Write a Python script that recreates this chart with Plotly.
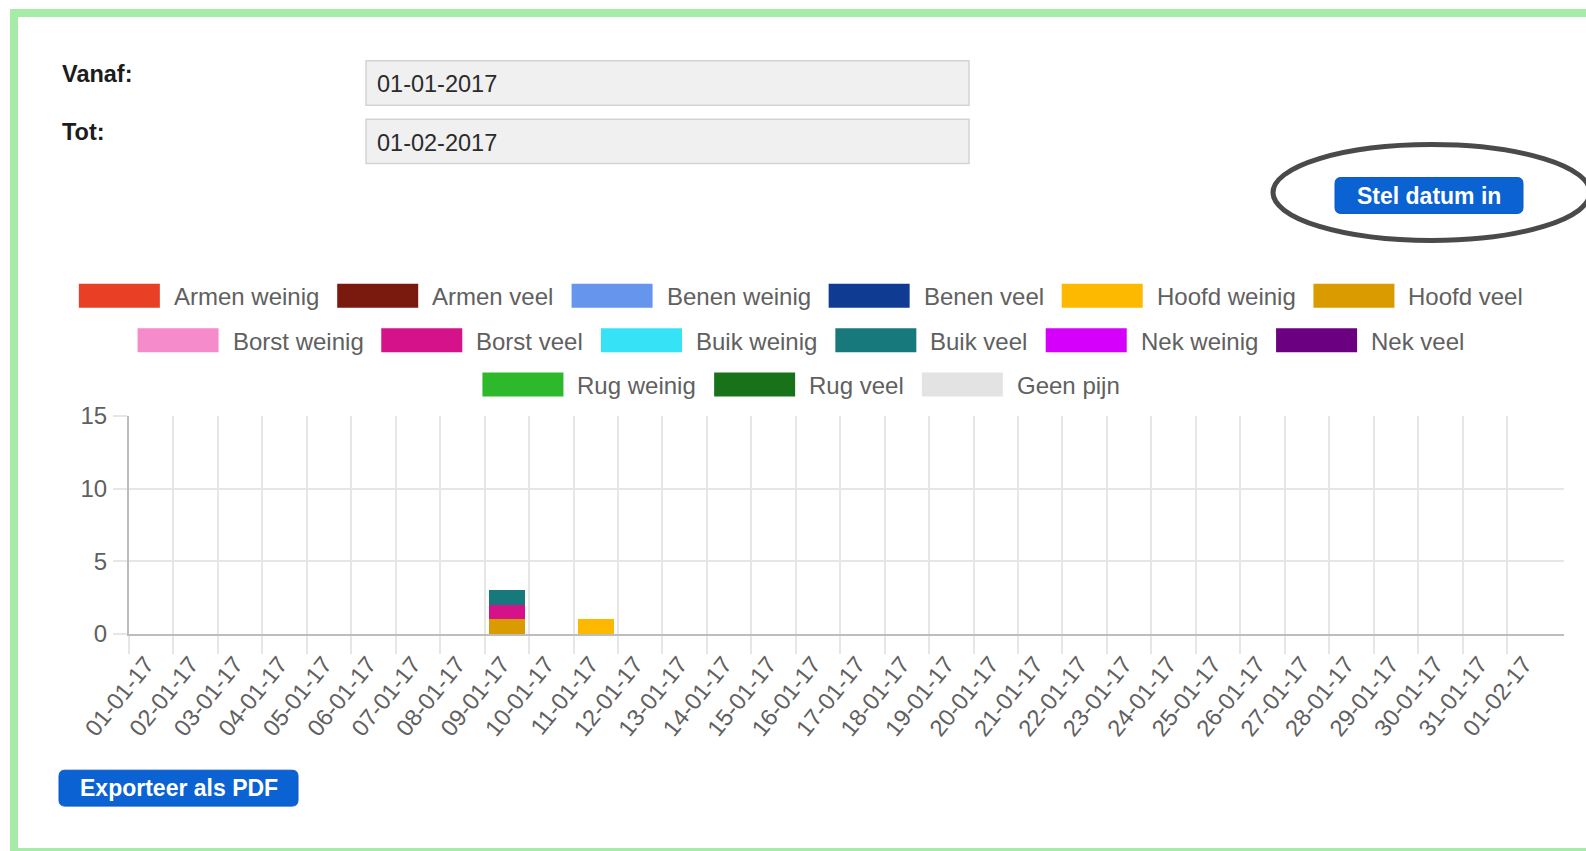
import plotly.graph_objects as go

# ---- data -------------------------------------------------------------
dates = [
    "01-01-17", "02-01-17", "03-01-17", "04-01-17", "05-01-17", "06-01-17",
    "07-01-17", "08-01-17", "09-01-17", "10-01-17", "11-01-17", "12-01-17",
    "13-01-17", "14-01-17", "15-01-17", "16-01-17", "17-01-17", "18-01-17",
    "19-01-17", "20-01-17", "21-01-17", "22-01-17", "23-01-17", "24-01-17",
    "25-01-17", "26-01-17", "27-01-17", "28-01-17", "29-01-17", "30-01-17",
    "31-01-17", "01-02-17",
]

armen_weinig = [0, 0, 0, 0, 0, 0, 0, 0, 0, 0, 0, 0, 0, 0, 0, 0, 0, 0, 0, 0, 0, 0, 0, 0, 0, 0, 0, 0, 0, 0, 0, 0]
armen_veel   = [0, 0, 0, 0, 0, 0, 0, 0, 0, 0, 0, 0, 0, 0, 0, 0, 0, 0, 0, 0, 0, 0, 0, 0, 0, 0, 0, 0, 0, 0, 0, 0]
benen_weinig = [0, 0, 0, 0, 0, 0, 0, 0, 0, 0, 0, 0, 0, 0, 0, 0, 0, 0, 0, 0, 0, 0, 0, 0, 0, 0, 0, 0, 0, 0, 0, 0]
benen_veel   = [0, 0, 0, 0, 0, 0, 0, 0, 0, 0, 0, 0, 0, 0, 0, 0, 0, 0, 0, 0, 0, 0, 0, 0, 0, 0, 0, 0, 0, 0, 0, 0]
hoofd_weinig = [0, 0, 0, 0, 0, 0, 0, 0, 0, 0, 1, 0, 0, 0, 0, 0, 0, 0, 0, 0, 0, 0, 0, 0, 0, 0, 0, 0, 0, 0, 0, 0]
hoofd_veel   = [0, 0, 0, 0, 0, 0, 0, 0, 1, 0, 0, 0, 0, 0, 0, 0, 0, 0, 0, 0, 0, 0, 0, 0, 0, 0, 0, 0, 0, 0, 0, 0]
borst_weinig = [0, 0, 0, 0, 0, 0, 0, 0, 0, 0, 0, 0, 0, 0, 0, 0, 0, 0, 0, 0, 0, 0, 0, 0, 0, 0, 0, 0, 0, 0, 0, 0]
borst_veel   = [0, 0, 0, 0, 0, 0, 0, 0, 1, 0, 0, 0, 0, 0, 0, 0, 0, 0, 0, 0, 0, 0, 0, 0, 0, 0, 0, 0, 0, 0, 0, 0]
buik_weinig  = [0, 0, 0, 0, 0, 0, 0, 0, 0, 0, 0, 0, 0, 0, 0, 0, 0, 0, 0, 0, 0, 0, 0, 0, 0, 0, 0, 0, 0, 0, 0, 0]
buik_veel    = [0, 0, 0, 0, 0, 0, 0, 0, 1, 0, 0, 0, 0, 0, 0, 0, 0, 0, 0, 0, 0, 0, 0, 0, 0, 0, 0, 0, 0, 0, 0, 0]
nek_weinig   = [0, 0, 0, 0, 0, 0, 0, 0, 0, 0, 0, 0, 0, 0, 0, 0, 0, 0, 0, 0, 0, 0, 0, 0, 0, 0, 0, 0, 0, 0, 0, 0]
nek_veel     = [0, 0, 0, 0, 0, 0, 0, 0, 0, 0, 0, 0, 0, 0, 0, 0, 0, 0, 0, 0, 0, 0, 0, 0, 0, 0, 0, 0, 0, 0, 0, 0]
rug_weinig   = [0, 0, 0, 0, 0, 0, 0, 0, 0, 0, 0, 0, 0, 0, 0, 0, 0, 0, 0, 0, 0, 0, 0, 0, 0, 0, 0, 0, 0, 0, 0, 0]
rug_veel     = [0, 0, 0, 0, 0, 0, 0, 0, 0, 0, 0, 0, 0, 0, 0, 0, 0, 0, 0, 0, 0, 0, 0, 0, 0, 0, 0, 0, 0, 0, 0, 0]
geen_pijn    = [0, 0, 0, 0, 0, 0, 0, 0, 0, 0, 0, 0, 0, 0, 0, 0, 0, 0, 0, 0, 0, 0, 0, 0, 0, 0, 0, 0, 0, 0, 0, 0]

series_names = [
    "Armen weinig", "Armen veel", "Benen weinig", "Benen veel",
    "Hoofd weinig", "Hoofd veel", "Borst weinig", "Borst veel",
    "Buik weinig", "Buik veel", "Nek weinig", "Nek veel",
    "Rug weinig", "Rug veel", "Geen pijn",
]
series_values = [
    armen_weinig, armen_veel, benen_weinig, benen_veel,
    hoofd_weinig, hoofd_veel, borst_weinig, borst_veel,
    buik_weinig, buik_veel, nek_weinig, nek_veel,
    rug_weinig, rug_veel, geen_pijn,
]
y_ticks = [0, 5, 10, 15]

date_from = "01-01-2017"
date_to = "01-02-2017"

# ---- styling ----------------------------------------------------------
series_colors = [
    "#e93f25", "#7a1a0f", "#6595ed", "#103b93",
    "#fdb900", "#d99b00", "#f58bcb", "#d5128a",
    "#36e3f6", "#18797d", "#d400fb", "#6b0081",
    "#2db92b", "#18721a", "#e3e3e3",
]
FONT = "Liberation Sans, Arial, Helvetica, sans-serif"
TEXT_GREY = "#606060"
GRID = "#e6e6e6"
ZERO = "#bdbdbd"
BUTTON = "#0b62d3"

FIG_W, FIG_H = 1586, 851
# plot area in pixels
L, R, T, B = 129.0, 1564.0, 416.0, 634.5
PW, PH = R - L, B - T
CAT_W = 44.45  # width of one day slot in pixels


def px(x):
    return (x - L) / PW


def py(y):
    return (B - y) / PH


# Arial / Liberation Sans advance widths (1/1000 em) for legend layout
ADV = {
    " ": 278, "A": 667, "B": 667, "G": 778, "H": 722, "N": 722, "R": 722,
    "b": 556, "d": 556, "e": 556, "f": 278, "g": 556, "i": 222, "j": 222,
    "k": 500, "l": 222, "m": 833, "n": 556, "o": 556, "p": 556, "r": 333,
    "s": 500, "t": 278, "u": 556, "v": 500, "w": 722,
}


def text_width(s, size):
    return sum(ADV.get(c, 556) for c in s) / 1000.0 * size


x_idx = list(range(len(dates)))

fig = go.Figure()
for name, vals, col in zip(series_names, series_values, series_colors):
    fig.add_trace(go.Bar(
        x=x_idx, y=vals, name=name,
        marker=dict(color=col, line=dict(width=0)),
        showlegend=False,
    ))

shapes = []
annotations = []

# page frame
shapes.append(dict(type="rect", xref="paper", yref="paper",
                   x0=px(14), x1=px(1600), y0=py(12), y1=py(853),
                   line=dict(color="#a7eba9", width=8), fillcolor="rgba(0,0,0,0)",
                   layer="above"))

# date form
for label, value, y_top in (("Vanaf:", date_from, 60), ("Tot:", date_to, 118.5)):
    shapes.append(dict(type="rect", xref="paper", yref="paper",
                       x0=px(366), x1=px(969), y0=py(y_top), y1=py(y_top + 44.5),
                       line=dict(color="#d3d3d3", width=1.5), fillcolor="#f0f0f0",
                       layer="below"))
    annotations.append(dict(xref="paper", yref="paper", x=px(60), y=py(y_top + 13),
                            text="<b>" + label + "</b>", showarrow=False,
                            xanchor="left", yanchor="middle",
                            font=dict(family=FONT, size=23.5, color="#1c1c1c")))
    annotations.append(dict(xref="paper", yref="paper", x=px(375), y=py(y_top + 23.5),
                            text=value, showarrow=False,
                            xanchor="left", yanchor="middle",
                            font=dict(family=FONT, size=23.5, color="#2b2b2b")))


def rounded_rect(x0, y0, x1, y1, r):
    rx, ry = r / PW, r / PH
    a0, a1, b0, b1 = px(x0), px(x1), py(y1), py(y0)  # b1 is top in paper
    return (f"M {a0 + rx},{b0} L {a1 - rx},{b0} Q {a1},{b0} {a1},{b0 + ry} "
            f"L {a1},{b1 - ry} Q {a1},{b1} {a1 - rx},{b1} "
            f"L {a0 + rx},{b1} Q {a0},{b1} {a0},{b1 - ry} "
            f"L {a0},{b0 + ry} Q {a0},{b0} {a0 + rx},{b0} Z")


def button(x0, y0, x1, y1, text):
    shapes.append(dict(type="path", xref="paper", yref="paper",
                       path=rounded_rect(x0, y0, x1, y1, 6),
                       fillcolor=BUTTON, line=dict(color="#0a58c2", width=1)))
    annotations.append(dict(xref="paper", yref="paper",
                            x=px((x0 + x1) / 2), y=py((y0 + y1) / 2),
                            text="<b>" + text + "</b>", showarrow=False,
                            xanchor="center", yanchor="middle",
                            font=dict(family=FONT, size=23, color="white")))


button(1335, 177, 1523, 213, "Stel datum in")
button(59, 771, 298, 807, "Exporteer als PDF")

# highlight ring around the date button
shapes.append(dict(type="circle", xref="paper", yref="paper",
                   x0=px(1273), x1=px(1590), y0=py(144), y1=py(240),
                   line=dict(color="#4a4a4a", width=5), fillcolor="rgba(0,0,0,0)"))

# legend: centred rows, wide colour boxes
LEG_SIZE = 24
BOX_W, BOX_H, BOX_GAP, ITEM_PAD = 81, 24, 12, 20
LEG_CENTER = 800
ROW_Y = [295.5, 340, 384.5]
MAX_ROW = 1490

items = [(n, c, BOX_W + BOX_GAP + text_width(n, LEG_SIZE))
         for n, c in zip(series_names, series_colors)]
rows, cur, cur_w = [], [], 0
for it in items:
    add = it[2] + (ITEM_PAD if cur else 0)
    if cur and cur_w + add > MAX_ROW:
        rows.append((cur, cur_w))
        cur, cur_w = [], 0
        add = it[2]
    cur.append(it)
    cur_w += add
rows.append((cur, cur_w))

for (row, row_w), yc in zip(rows, ROW_Y):
    x = LEG_CENTER - row_w / 2
    for name, col, w in row:
        shapes.append(dict(type="rect", xref="paper", yref="paper",
                           x0=px(x), x1=px(x + BOX_W),
                           y0=py(yc - BOX_H / 2), y1=py(yc + BOX_H / 2),
                           fillcolor=col, line=dict(width=0)))
        annotations.append(dict(xref="paper", yref="paper",
                                x=px(x + BOX_W + BOX_GAP), y=py(yc + 1),
                                text=name, showarrow=False,
                                xanchor="left", yanchor="middle",
                                font=dict(family=FONT, size=LEG_SIZE, color=TEXT_GREY)))
        x += w + ITEM_PAD

fig.update_layout(
    width=FIG_W, height=FIG_H,
    margin=dict(l=L, r=FIG_W - R, t=T, b=FIG_H - B, pad=0, autoexpand=False),
    template="none",
    paper_bgcolor="white", plot_bgcolor="white",
    barmode="stack", bargap=0.18,
    font=dict(family=FONT, color=TEXT_GREY),
    shapes=shapes, annotations=annotations,
    xaxis=dict(
        range=[-0.5, PW / CAT_W - 0.5],
        tickmode="array", tickvals=x_idx, ticktext=dates,
        tickangle=-51, ticks="outside", ticklen=5, tickcolor="rgba(0,0,0,0)",
        ticklabelshift=-5,
        tickfont=dict(family=FONT, size=23.5, color=TEXT_GREY),
        showgrid=False, zeroline=False,
        showline=True, linecolor=ZERO, linewidth=2,
        minor=dict(tickmode="array", tickvals=[i - 0.5 for i in x_idx],
                   ticks="outside", ticklen=18, tickcolor=GRID, tickwidth=1.5,
                   showgrid=True, gridcolor=GRID, gridwidth=1.5),
        automargin=False, fixedrange=True,
    ),
    yaxis=dict(
        range=[0, 15], tickmode="array", tickvals=y_ticks,
        ticks="outside", ticklen=14, tickcolor=GRID, tickwidth=1.5,
        tickfont=dict(family=FONT, size=24, color=TEXT_GREY),
        ticklabelstandoff=1,
        showgrid=True, gridcolor=GRID, gridwidth=1.5, zeroline=False,
        showline=True, linecolor=ZERO, linewidth=2,
        automargin=False, fixedrange=True,
    ),
)

fig.write_html("out.html", config={"displayModeBar": False})
